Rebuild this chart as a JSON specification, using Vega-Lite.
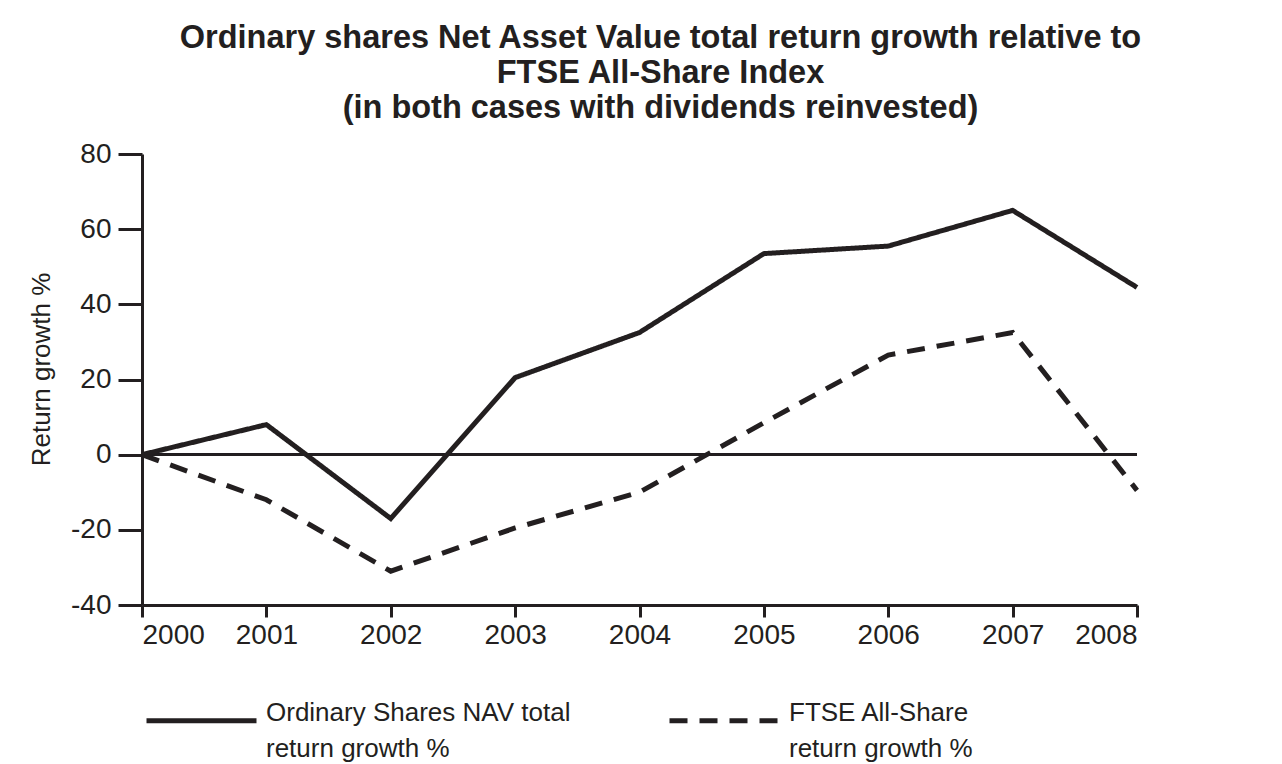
{
  "$schema": "https://vega.github.io/schema/vega-lite/v6.json",
  "autosize": "none",
  "width": 995,
  "height": 451,
  "padding": {"left": 142, "top": 154, "right": 145, "bottom": 159},
  "background": "white",
  "title": {
    "text": ["Ordinary shares Net Asset Value total return growth relative to", "FTSE All-Share Index", "(in both cases with dividends reinvested)"],
    "font": "Liberation Sans",
    "fontSize": 32.5,
    "fontWeight": "bold",
    "color": "#231f20",
    "anchor": "middle",
    "dx": 21,
    "lineHeight": 35,
    "offset": 16
  },
  "config": {
    "view": {"stroke": null},
    "font": "Liberation Sans",
    "style": {"guide-label": {"lineHeight": 36}}
  },
  "data": {
    "values": [
      {"year": 2000, "series": "NAV", "value": 0},
      {"year": 2001, "series": "NAV", "value": 8},
      {"year": 2002, "series": "NAV", "value": -17},
      {"year": 2003, "series": "NAV", "value": 20.5},
      {"year": 2004, "series": "NAV", "value": 32.5},
      {"year": 2005, "series": "NAV", "value": 53.5},
      {"year": 2006, "series": "NAV", "value": 55.5},
      {"year": 2007, "series": "NAV", "value": 65},
      {"year": 2008, "series": "NAV", "value": 44.5},
      {"year": 2000, "series": "FTSE", "value": 0},
      {"year": 2001, "series": "FTSE", "value": -12},
      {"year": 2002, "series": "FTSE", "value": -31},
      {"year": 2003, "series": "FTSE", "value": -19.5},
      {"year": 2004, "series": "FTSE", "value": -10},
      {"year": 2005, "series": "FTSE", "value": 8.5},
      {"year": 2006, "series": "FTSE", "value": 26.5},
      {"year": 2007, "series": "FTSE", "value": 32.5},
      {"year": 2008, "series": "FTSE", "value": -9.5}
    ]
  },
  "layer": [
    {
      "mark": {"type": "rule", "stroke": "#231f20", "strokeWidth": 2},
      "encoding": {
        "y": {"datum": 0, "type": "quantitative", "scale": {"domain": [-40, 80]}},
        "x": {"datum": 2000, "type": "quantitative"},
        "x2": {"datum": 2008}
      }
    },
    {
      "mark": {"type": "line", "stroke": "#231f20", "strokeWidth": 5, "strokeJoin": "miter", "strokeCap": "butt"},
      "encoding": {
        "x": {
          "field": "year", "type": "quantitative",
          "scale": {"domain": [2000, 2008], "nice": false, "zero": false},
          "axis": {
            "values": [2000, 2001, 2002, 2003, 2004, 2005, 2006, 2007, 2008],
            "format": "d", "title": null, "grid": false,
            "tickSize": 12, "tickWidth": 3, "tickColor": "#231f20",
            "domainWidth": 3, "domainColor": "#231f20",
            "labelFontSize": 28, "labelColor": "#231f20", "labelPadding": 4,
            "labelFont": "Liberation Sans"
          }
        },
        "y": {
          "field": "value", "type": "quantitative",
          "scale": {"domain": [-40, 80], "nice": false},
          "axis": {
            "values": [-40, -20, 0, 20, 40, 60, 80],
            "labelExpr": "'' + datum.value",
            "title": "Return growth %", "titleFontSize": 26, "titleFontWeight": "normal",
            "titleColor": "#231f20", "titlePadding": 16, "titleFont": "Liberation Sans",
            "titleY": 215,
            "grid": false,
            "tickSize": 24, "tickWidth": 3, "tickColor": "#231f20",
            "domainWidth": 3, "domainColor": "#231f20",
            "labelFontSize": 28, "labelColor": "#231f20", "labelPadding": 7,
            "labelFont": "Liberation Sans"
          }
        },
        "detail": {"field": "series"},
        "strokeDash": {
          "field": "series", "type": "nominal",
          "scale": {"domain": ["NAV", "FTSE"], "range": [[1, 0], [18, 12]]},
          "legend": {
            "orient": "none",
            "legendX": 2,
            "legendY": 509,
            "direction": "horizontal",
            "title": null,
            "symbolType": "stroke",
            "symbolSize": 12100,
            "symbolStrokeWidth": 5,
            "symbolStrokeColor": "#231f20",
            "labelFontSize": 26,
            "labelColor": "#231f20",
            "labelFont": "Liberation Sans",
            "labelBaseline": "alphabetic",
            "labelLimit": 600,
            "labelOffset": 7,
            "columnPadding": 88,
            "labelExpr": "datum.label == 'NAV' ? ['Ordinary Shares NAV total', ' return growth %'] : ['FTSE All-Share', 'return growth %']"
          }
        }
      }
    }
  ]
}
